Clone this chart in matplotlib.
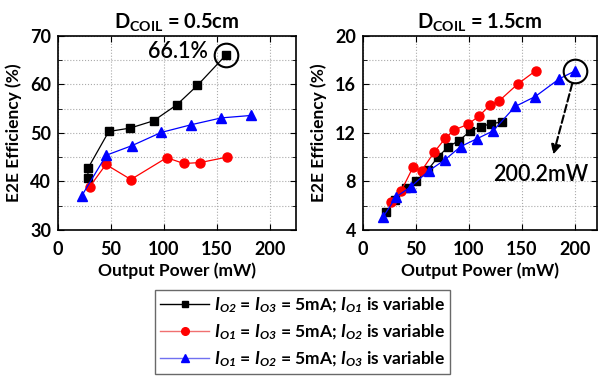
import numpy as np
import matplotlib
matplotlib.use('Agg')
import matplotlib.pyplot as plt
from matplotlib.ticker import MultipleLocator
from matplotlib.lines import Line2D

plt.rcParams['font.family'] = ['Lato', 'DejaVu Sans']
plt.rcParams['font.weight'] = 'bold'
plt.rcParams['mathtext.fontset'] = 'custom'
plt.rcParams['mathtext.rm'] = 'Lato:bold'
plt.rcParams['mathtext.bf'] = 'Lato:bold'
plt.rcParams['mathtext.it'] = 'Lato:bold:italic'
plt.rcParams['mathtext.bfit'] = 'Lato:bold:italic'

# D_COIL = 0.5cm
a_black_x = [28.3, 28.3, 48, 68.2, 90.3, 112.3, 131.8, 158.5]
a_black_y = [40.8, 42.7, 50.3, 51.0, 52.5, 55.8, 59.8, 66.0]
a_red_x = [29.9, 45.3, 68.9, 102.8, 118.9, 134.6, 159.4]
a_red_y = [38.9, 43.5, 40.4, 44.9, 43.7, 43.9, 45.0]
a_blue_x = [22.6, 45.6, 70.1, 97.5, 126.1, 154.4, 182.4]
a_blue_y = [37.1, 45.4, 47.4, 50.1, 51.7, 53.1, 53.6]

# D_COIL = 1.5cm
b_black_x = [22.1, 30.3, 41, 49.8, 61.5, 71.3, 80.8, 90.9, 100.9, 111.4, 120.8, 131.5]
b_black_y = [5.44, 6.46, 7.42, 8.0, 8.98, 10.05, 10.88, 11.37, 12.12, 12.53, 12.75, 12.91]
b_red_x = [26.2, 36.3, 47.3, 55.5, 67.5, 77.9, 86.4, 99.4, 109.8, 120.2, 129, 146.1, 163.4]
b_red_y = [6.32, 7.25, 9.18, 8.9, 10.44, 11.57, 12.25, 12.72, 13.41, 14.29, 14.67, 16.02, 17.14]
b_blue_x = [19.2, 31.5, 45.4, 62.1, 77.3, 92.4, 108.2, 123, 143.8, 162.8, 185.5, 200.6]
b_blue_y = [5.11, 6.73, 7.58, 8.87, 9.78, 10.88, 11.54, 12.17, 14.18, 15.0, 16.46, 17.12]

labels = [r'$\mathbfit{I}_{\mathbfit{O2}}$ = $\mathbfit{I}_{\mathbfit{O3}}$ = 5mA; $\mathbfit{I}_{\mathbfit{O1}}$ is variable',
          r'$\mathbfit{I}_{\mathbfit{O1}}$ = $\mathbfit{I}_{\mathbfit{O3}}$ = 5mA; $\mathbfit{I}_{\mathbfit{O2}}$ is variable',
          r'$\mathbfit{I}_{\mathbfit{O1}}$ = $\mathbfit{I}_{\mathbfit{O2}}$ = 5mA; $\mathbfit{I}_{\mathbfit{O3}}$ is variable']

fig = plt.figure(figsize=(5.98, 3.82), dpi=100)
ax1 = fig.add_axes([0.097, 0.398, 0.398, 0.508])
ax2 = fig.add_axes([0.607, 0.398, 0.391, 0.508])

styles = [dict(color='black', marker='s', ms=6, leg='black'),
          dict(color='red', marker='o', ms=6.5, leg='#f07070'),
          dict(color='blue', marker='^', ms=7, leg='#7070f0')]

for ax, data in [(ax1, [(a_black_x, a_black_y), (a_red_x, a_red_y), (a_blue_x, a_blue_y)]),
                 (ax2, [(b_black_x, b_black_y), (b_red_x, b_red_y), (b_blue_x, b_blue_y)])]:
    for (x, y), st in zip(data, styles):
        ax.plot(x, y, color=st['color'], marker=st['marker'], ms=st['ms'], lw=0.9, zorder=3)
    ax.grid(True, which='both', axis='y', ls=':', color='#aaaaaa', lw=0.8)
    ax.grid(True, which='major', axis='x', ls=':', color='#aaaaaa', lw=0.8)
    ax.tick_params(which='both', direction='in', top=True, right=True, labelsize=13)
    ax.tick_params(axis='x', pad=8)
    ax.tick_params(axis='y', pad=5)
    ax.tick_params(which='major', length=4)
    ax.tick_params(which='minor', length=3)
    ax.set_xlabel('Output Power (mW)', fontsize=12.5, fontweight='bold', labelpad=3)
    ax.set_ylabel('E2E Efficiency (%)', fontsize=12.5, fontweight='bold', labelpad=6)
    for sp in ax.spines.values():
        sp.set_linewidth(1.2)
    ax.xaxis.set_major_locator(MultipleLocator(50))

ax1.set_xlim(0, 225)
ax1.set_ylim(30, 70)
ax1.yaxis.set_major_locator(MultipleLocator(10))
ax1.yaxis.set_minor_locator(MultipleLocator(5))
ax1.set_title(r'$\mathbf{D_{COIL}}$ = 0.5cm', fontsize=14.5, fontweight='bold', pad=5)

ax2.set_xlim(0, 221)
ax2.set_ylim(4, 20)
ax2.yaxis.set_major_locator(MultipleLocator(4))
ax2.yaxis.set_minor_locator(MultipleLocator(2))
ax2.set_title(r'$\mathbf{D_{COIL}}$ = 1.5cm', fontsize=14.5, fontweight='bold', pad=5)

# highlight peaks
ax1.plot(a_black_x[-1], a_black_y[-1], 'o', ms=17, mfc='none', mec='black', mew=1.5, zorder=4)
ax1.text(142, 66.8, '66.1%', fontsize=15.5, fontweight='semibold', ha='right', va='center')
ax2.plot(b_blue_x[-1], b_blue_y[-1], 'o', ms=17, mfc='none', mec='black', mew=1.5, zorder=4)
ax2.annotate('', xy=(179.2, 10.0), xytext=(198.5, 16.3),
             arrowprops=dict(arrowstyle='-|>', ls='--', lw=1.5, color='black', mutation_scale=14))
ax2.text(168, 8.55, '200.2mW', fontsize=15.5, fontweight='semibold', ha='center', va='center')

handles = [Line2D([], [], color=st['leg'], marker=st['marker'], ms=st['ms'] - 1, lw=1.0,
                  mfc=st['color'], mec=st['color']) for st in styles]
fig.legend(handles, labels, loc='upper left', bbox_to_anchor=(155 / 598, 1 - 290 / 382),
           fontsize=12.5, frameon=True, fancybox=False, edgecolor='#444444', handlelength=2.8,
           labelspacing=0.45, borderpad=0.3, handletextpad=0.3, borderaxespad=0)

fig.savefig('out.png', dpi=100)
